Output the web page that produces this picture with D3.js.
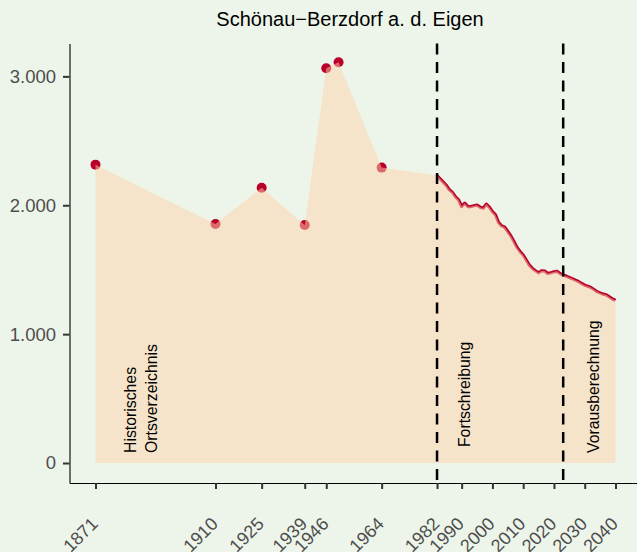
<!DOCTYPE html>
<html>
<head>
<meta charset="utf-8">
<script src="https://cdn.jsdelivr.net/npm/d3@7"></script>
<style>
  body { margin: 0; background: #EDF5EA; }
  text { font-family: "Liberation Sans", Arial, sans-serif; }
</style>
</head>
<body>
<svg width="637" height="552"></svg>
<script>
// census counts (points)
const histYears = [1871, 1910, 1925, 1939, 1946, 1950, 1964];
const histValues = [2315, 1855, 2136, 1847, 3063, 3110, 2292];

// yearly series: Fortschreibung + Vorausberechnung
const seriesYears = [
  1982, 1983, 1984, 1985, 1986, 1987, 1988, 1989, 1990, 1991,
  1992, 1993, 1994, 1995, 1996, 1997, 1998, 1999, 2000, 2001,
  2002, 2003, 2004, 2005, 2006, 2007, 2008, 2009, 2010, 2011,
  2012, 2013, 2014, 2015, 2016, 2017, 2018, 2019, 2020, 2021,
  2022, 2023, 2024, 2025, 2026, 2027, 2028, 2029, 2030, 2031,
  2032, 2033, 2034, 2035, 2036, 2037, 2038, 2039, 2040
];
const seriesValues = [
  2230, 2205, 2180, 2155, 2120, 2100, 2065, 2042, 1990, 2016,
  1990, 1990, 1996, 2001, 1985, 1977, 2009, 1985, 1951, 1925,
  1866, 1840, 1829, 1796, 1762, 1718, 1673, 1640, 1614, 1575,
  1536, 1510, 1492, 1476, 1492, 1489, 1471, 1476, 1484, 1487,
  1470, 1458, 1450, 1440, 1429, 1419, 1408, 1393, 1380, 1372,
  1362, 1346, 1330, 1320, 1310, 1305, 1289, 1273, 1263
];

const tickYears = [1871, 1910, 1925, 1939, 1946, 1964, 1982, 1990, 2000, 2010, 2020, 2030, 2040];
const yTicks = [0, 1000, 2000, 3000];
const phaseBreaks = [1982, 2023];
const phaseLabels = [
  { year: 1885.8, at: 78, lines: ["Historisches", "Ortsverzeichnis"] },
  { year: 1991, at: 124, lines: ["Fortschreibung"] },
  { year: 2033, at: 78, lines: ["Vorausberechnung"] }
];
const title = "Schönau\u2212Berzdorf a. d. Eigen";

const svg = d3.select("svg");

const x = d3.scaleLinear().domain([1862.55, 2048.45]).range([69.5, 641.5]);
const y = d3.scaleLinear().domain([-155, 3255]).range([483, 43.5]);

const de = d3.formatLocale({ decimal: ",", thousands: ".", grouping: [3], currency: ["", "€"] });
const fmt = de.format(",d");

// points + line first, area drawn over them (semi transparent)
svg.append("g")
  .selectAll("circle")
  .data(histYears)
  .enter()
  .append("circle")
  .attr("cx", (d) => x(d))
  .attr("cy", (d, i) => y(histValues[i]))
  .attr("r", 5)
  .attr("fill", "#B8002A");

const series = seriesYears.map((d, i) => ({ year: d, value: seriesValues[i] }));
svg.append("path")
  .datum(series)
  .attr("fill", "none")
  .attr("stroke", "#B8002A")
  .attr("stroke-width", 3.2)
  .attr("stroke-linejoin", "round")
  .attr("d", d3.line().x((d) => x(d.year)).y((d) => y(d.value)));

const all = histYears
  .map((d, i) => ({ year: d, value: histValues[i] }))
  .concat(series);

svg.append("path")
  .datum(all)
  .attr("fill", "rgb(255,212,170)")
  .attr("fill-opacity", 0.5)
  .attr("d", d3.area().x((d) => x(d.year)).y0(y(0)).y1((d) => y(d.value)));

// phase separators
svg.append("g")
  .selectAll("line")
  .data(phaseBreaks)
  .enter()
  .append("line")
  .attr("x1", (d) => x(d))
  .attr("x2", (d) => x(d))
  .attr("y1", y.range()[1])
  .attr("y2", y.range()[0])
  .attr("stroke", "#000")
  .attr("stroke-width", 2.5)
  .attr("stroke-dasharray", "11,7.5");

// phase labels (rotated)
phaseLabels.forEach((p) => {
  const n = p.lines.length;
  p.lines.forEach((t, k) => {
    const cx = x(p.year) + (k - (n - 1) / 2) * 21;
    const cy = y(p.at);
    svg.append("text")
      .attr("transform", `translate(${cx},${cy}) rotate(-90)`)
      .attr("dy", "0.35em")
      .attr("font-size", 15.8)
      .attr("fill", "#000")
      .text(t);
  });
});

// y axis
const yAxis = svg.append("g")
  .attr("transform", "translate(69.5,0)")
  .call(d3.axisLeft(y).tickValues(yTicks).tickFormat(fmt).tickSize(6.5).tickSizeOuter(0).tickPadding(7));
yAxis.select(".domain").attr("stroke", "#000").attr("stroke-width", 1.1);
yAxis.selectAll(".tick line").attr("stroke", "#333").attr("stroke-width", 2);
yAxis.selectAll(".tick text").attr("font-size", 18.5).attr("fill", "#4D4D4D")
  .style("font-family", "'Liberation Sans', Arial, sans-serif");

// x axis
const xAxis = svg.append("g")
  .attr("transform", "translate(0,483)")
  .call(d3.axisBottom(x).tickValues(tickYears).tickFormat((d) => d).tickSize(6).tickSizeOuter(0));
xAxis.select(".domain").attr("stroke", "#000").attr("stroke-width", 1.1);
xAxis.selectAll(".tick line").attr("stroke", "#333").attr("stroke-width", 2);
xAxis.selectAll(".tick text")
  .attr("font-size", 18)
  .attr("fill", "#4D4D4D")
  .style("font-family", "'Liberation Sans', Arial, sans-serif")
  .attr("text-anchor", "end")
  .attr("y", 0)
  .attr("dy", 0)
  .attr("transform", "translate(3,42) rotate(-45)");

// title
svg.append("text")
  .attr("x", 350)
  .attr("y", 26)
  .attr("text-anchor", "middle")
  .attr("font-size", 20)
  .attr("fill", "#000")
  .text(title);
</script>
</body>
</html>
